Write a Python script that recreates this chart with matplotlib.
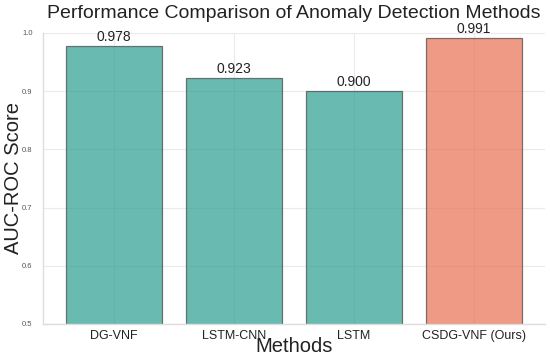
import numpy as np
import matplotlib
matplotlib.use("Agg")
import matplotlib.pyplot as plt
import seaborn as sns

methods = ["DG-VNF", "LSTM-CNN", "LSTM", "CSDG-VNF (Ours)"]
auc_scores = [0.978, 0.923, 0.900, 0.991]
bar_colors = ["#2a9d8f", "#2a9d8f", "#2a9d8f", "#e76f51"]

sns.set_style("whitegrid")
plt.rcParams['font.family'] = ['Liberation Sans', 'DejaVu Sans']

fig = plt.figure(figsize=(5.5, 3.62), dpi=100)
ax = fig.add_axes([0.078, 0.105, 0.912, 0.804])

x = np.arange(len(methods))
bars = ax.bar(x, auc_scores, width=0.8, color=bar_colors, alpha=0.7,
              edgecolor="#444444", linewidth=0.9)

for bar, val in zip(bars, auc_scores):
    ax.text(bar.get_x() + bar.get_width() / 2, val + 0.003, f"{val:.3f}",
            ha="center", va="bottom", fontsize=10, color="#222222")

ax.set_ylim(0.5, 1.0)
ax.set_yticks([0.5, 0.6, 0.7, 0.8, 0.9, 1.0])
ax.set_yticklabels(["0.5", "0.6", "0.7", "0.8", "0.9", "1.0"])
ax.set_xticks(x)
ax.set_xticklabels(methods, fontsize=9, color="#222222")
ax.tick_params(axis="y", labelsize=5.5, colors="#555555", pad=4)
ax.tick_params(axis="x", pad=1)

ax.set_title("Performance Comparison of Anomaly Detection Methods", fontsize=14,
             color="#222222", pad=11)
ax.set_xlabel("Methods", fontsize=14.5, color="#222222", labelpad=-4)
ax.set_ylabel("AUC-ROC Score", fontsize=14.5, color="#222222", labelpad=-1)

ax.grid(True, color="#ebebeb", linewidth=0.8)
for side in ["top", "right"]:
    ax.spines[side].set_visible(False)
for side in ["left", "bottom"]:
    ax.spines[side].set_color("#dddddd")
    ax.spines[side].set_linewidth(1.0)

fig.savefig("out.png", dpi=100, facecolor="white")
